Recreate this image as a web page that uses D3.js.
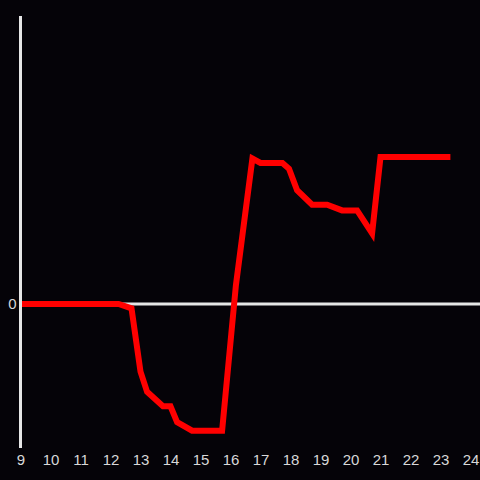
<!DOCTYPE html>
<html>
<head>
<meta charset="utf-8">
<script src="https://cdn.jsdelivr.net/npm/d3@7"></script>
<style>
  html, body { margin: 0; padding: 0; background: #050308; }
  svg { display: block; }
</style>
</head>
<body>
<div id="plot"></div>
<script>
// hour of day and relative value
const hours = [9, 12.27, 12.7, 13.0, 13.22, 13.75, 14.0, 14.22, 14.72, 15.72, 16.18, 16.73, 17.0, 17.73, 17.95, 18.22, 18.72, 19.22, 19.72, 20.22, 20.72, 21.0, 23.33];
const values = [0, 0, -0.03, -0.47, -0.61, -0.71, -0.71, -0.82, -0.88, -0.88, 0.13, 1.01, 0.98, 0.98, 0.94, 0.79, 0.69, 0.69, 0.65, 0.65, 0.49, 1.02, 1.02];
const xTicks = d3.range(9, 25);
const yTicks = [0];

const width = 480, height = 480;

const svg = d3.select("#plot").append("svg")
    .attr("width", width)
    .attr("height", height);

svg.append("rect")
    .attr("width", width).attr("height", height)
    .attr("fill", "#050308");

const x = d3.scaleLinear().domain([9, 24]).range([20.5, 470.5]);
const y = d3.scaleLinear().domain([-1, 2]).range([448, 16]);

// zero line
svg.append("line")
    .attr("x1", x(9)).attr("x2", width)
    .attr("y1", y(0)).attr("y2", y(0))
    .attr("stroke", "#e6e6e6")
    .attr("stroke-width", 3);

const line = d3.line()
    .x((d, i) => x(hours[i]))
    .y(d => y(d));

svg.append("path")
    .datum(values)
    .attr("d", line)
    .attr("fill", "none")
    .attr("stroke", "#ff0000")
    .attr("stroke-width", 6)
    .attr("stroke-linejoin", "miter");

// y axis line
svg.append("line")
    .attr("x1", x(9)).attr("x2", x(9))
    .attr("y1", y(2)).attr("y2", y(-1))
    .attr("stroke", "#e6e6e6")
    .attr("stroke-width", 3);

const xAxis = svg.append("g")
    .attr("transform", `translate(0, ${y(-1)})`)
    .call(d3.axisBottom(x).tickValues(xTicks).tickSize(0).tickPadding(6).tickFormat(d3.format("d")));
xAxis.select(".domain").remove();
xAxis.selectAll("text")
    .attr("fill", "#d8d8d8")
    .attr("font-family", "Liberation Sans, Arial, sans-serif")
    .attr("font-size", 15);

const yAxis = svg.append("g")
    .attr("transform", `translate(${x(9)}, 0)`)
    .call(d3.axisLeft(y).tickValues(yTicks).tickSize(0).tickPadding(4).tickFormat(d3.format("d")));
yAxis.select(".domain").remove();
yAxis.selectAll("text")
    .attr("fill", "#d8d8d8")
    .attr("font-family", "Liberation Sans, Arial, sans-serif")
    .attr("font-size", 15);
</script>
</body>
</html>
